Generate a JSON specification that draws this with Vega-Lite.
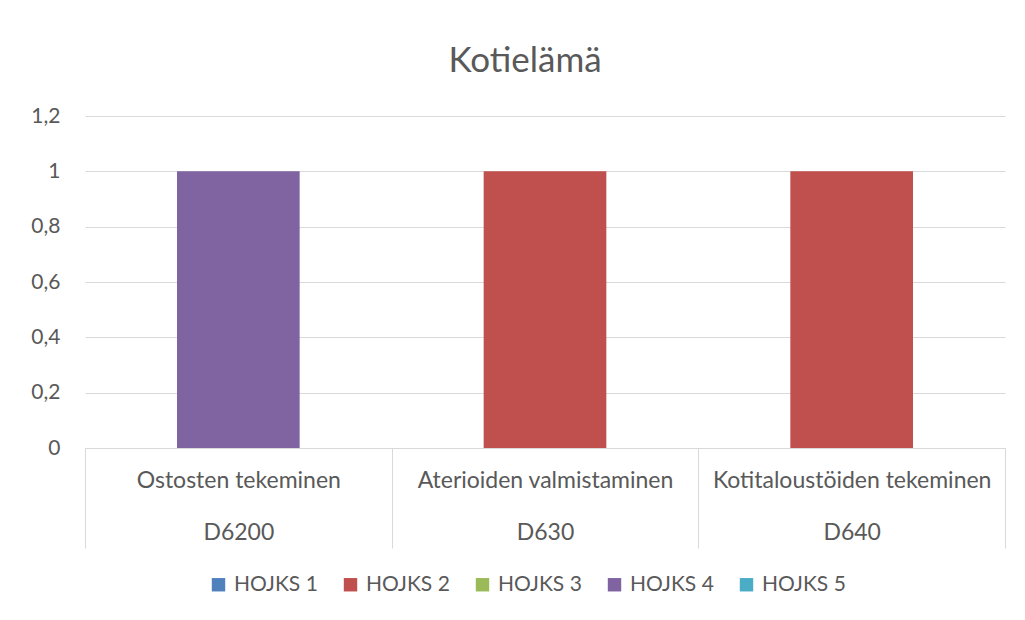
{
  "$schema": "https://vega.github.io/schema/vega-lite/v6.json",
  "autosize": {"type": "none"},
  "width": 920,
  "height": 332,
  "padding": {"left": 85, "top": 116, "right": 20, "bottom": 172},
  "background": "white",
  "title": {
    "text": "Kotielämä",
    "anchor": "middle",
    "fontSize": 35,
    "font": "Lato",
    "fontWeight": "normal",
    "color": "#595959",
    "offset": 26,
    "dx": -20
  },
  "data": {
    "values": [
      {"kategoria": "Ostosten tekeminen|D6200", "sarja": "HOJKS 4", "arvo": 1},
      {"kategoria": "Aterioiden valmistaminen|D630", "sarja": "HOJKS 2", "arvo": 1},
      {"kategoria": "Kotitaloustöiden tekeminen|D640", "sarja": "HOJKS 2", "arvo": 1}
    ]
  },
  "mark": {"type": "bar", "width": {"band": 0.4}},
  "encoding": {
    "x": {
      "field": "kategoria",
      "type": "nominal",
      "sort": null,
      "title": null,
      "scale": {"paddingInner": 0, "paddingOuter": 0},
      "axis": {
        "labelExpr": "split(datum.label, '|')",
        "labelAngle": 0,
        "labelFont": "Lato",
        "labelFontSize": 23,
        "labelColor": "#595959",
        "labelLineHeight": 52,
        "labelBaseline": "top",
        "labelLimit": 400,
        "labelPadding": -79,
        "tickBand": "extent",
        "tickSize": 100,
        "tickColor": "#d9d9d9",
        "domainColor": "#d9d9d9",
        "grid": false
      }
    },
    "y": {
      "field": "arvo",
      "type": "quantitative",
      "stack": null,
      "title": null,
      "scale": {"domain": [0, 1.2], "nice": false},
      "axis": {
        "values": [0, 0.2, 0.4, 0.6, 0.8, 1, 1.2],
        "labelExpr": "replace(format(datum.value, '.2~f'), '.', ',')",
        "labelFont": "Lato",
        "labelFontSize": 21,
        "labelColor": "#595959",
        "labelPadding": 25,
        "domain": false,
        "ticks": false,
        "gridColor": "#d9d9d9"
      }
    },
    "color": {
      "field": "sarja",
      "type": "nominal",
      "title": null,
      "scale": {
        "domain": ["HOJKS 1", "HOJKS 2", "HOJKS 3", "HOJKS 4", "HOJKS 5"],
        "range": ["#4F81BD", "#C0504D", "#9BBB59", "#8064A2", "#4BACC6"]
      },
      "legend": {
        "orient": "none",
        "legendX": 123,
        "legendY": 458,
        "padding": 0,
        "direction": "horizontal",
        "symbolType": "square",
        "symbolSize": 180,
        "symbolStrokeWidth": 0,
        "labelFont": "Lato",
        "labelFontSize": 21,
        "labelColor": "#595959",
        "labelOffset": 5,
        "columnPadding": 22
      }
    }
  },
  "config": {"view": {"stroke": null}}
}
